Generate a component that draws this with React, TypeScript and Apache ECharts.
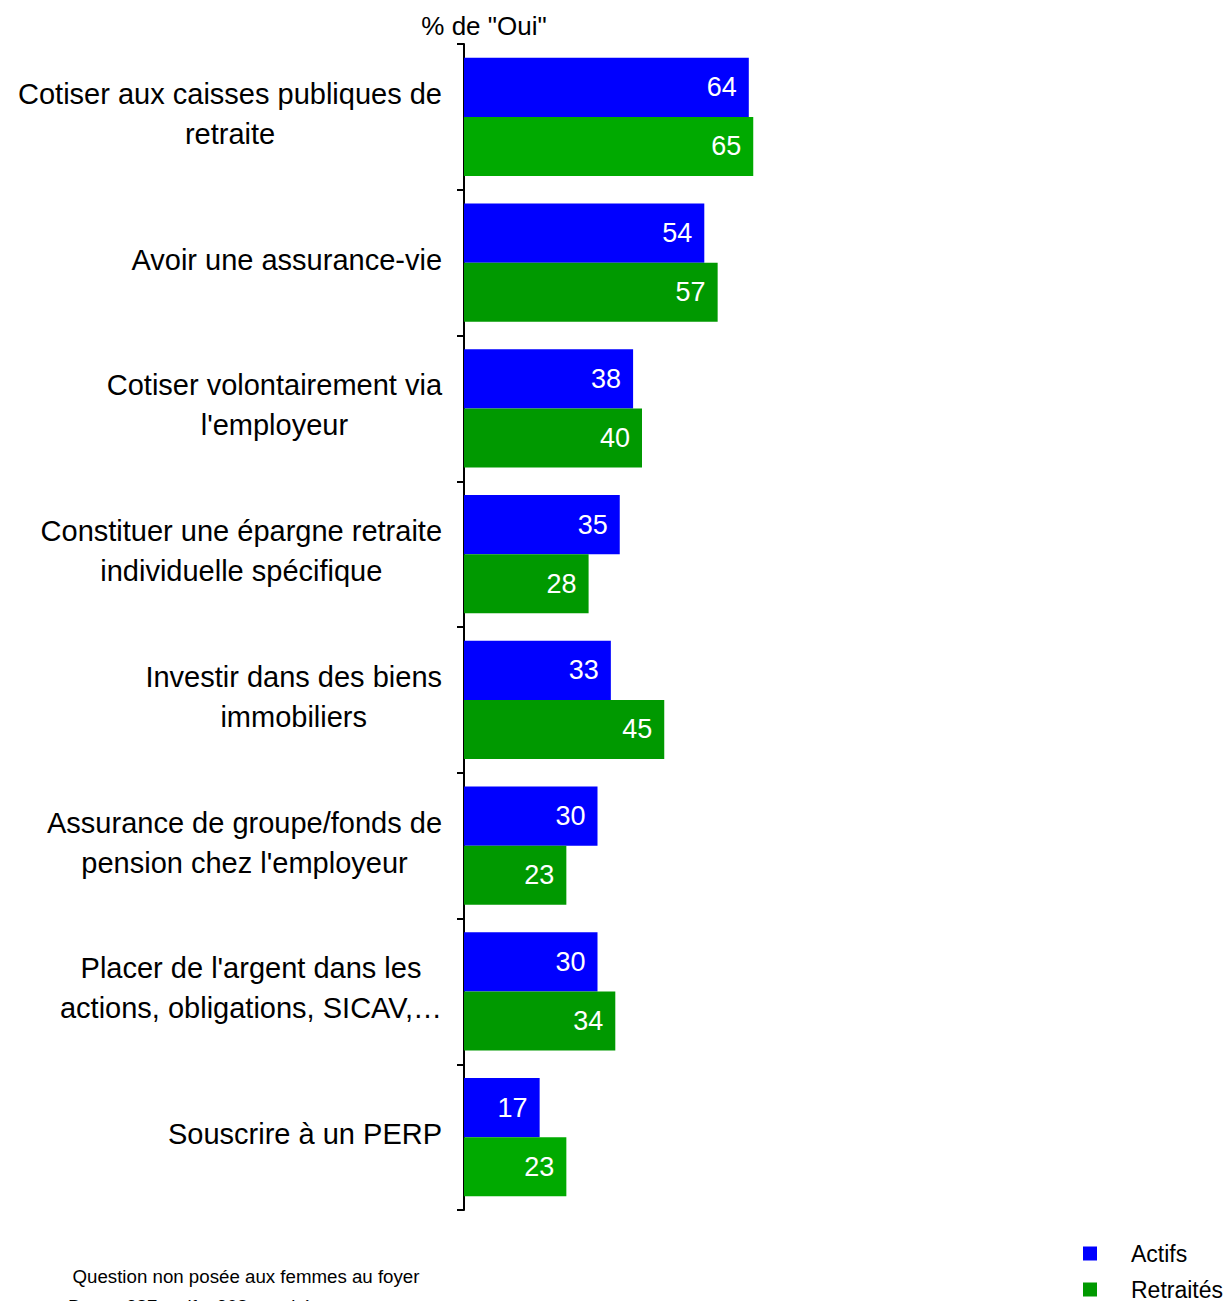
import React, { useEffect, useRef } from "react";
import * as echarts from "echarts";

const categories = [
  "Cotiser aux caisses publiques de\nretraite",
  "Avoir une assurance-vie",
  "Cotiser volontairement via\nl'employeur",
  "Constituer une épargne retraite\nindividuelle spécifique",
  "Investir dans des biens\nimmobiliers",
  "Assurance de groupe/fonds de\npension chez l'employeur",
  "Placer de l'argent dans les\nactions, obligations, SICAV,…",
  "Souscrire à un PERP",
];
const actifs = [64, 54, 38, 35, 33, 30, 30, 17];
const retraites = [65, 57, 40, 28, 45, 23, 34, 23];
const seriesNames = ["Actifs", "Retraités"];
const axisTitle = '% de "Oui"';
const footnotes = [
  "Question non posée aux femmes au foyer",
  "Base : 387 actifs, 208 retraités",
];
const highlightedGreen = [0, 7];

const FONT = "'Liberation Sans', Arial, sans-serif";
const BLUE = "#0000FF";
const GREEN = "#009900";
const GREEN_LIGHT = "#00AA00";

export default function App() {
  const ref = useRef<HTMLDivElement>(null);
  useEffect(() => {
    if (!ref.current) return;
    const chart = echarts.init(ref.current, undefined, { renderer: "svg" });
    const valueLabel = {
      show: true,
      position: "insideRight",
      distance: 12,
      color: "#fff",
      fontSize: 27,
      fontFamily: FONT,
    };
    chart.setOption({
      animation: false,
      backgroundColor: "#fff",
      textStyle: { fontFamily: FONT },
      grid: { left: 464, top: 44, width: 445, bottom: 91, containLabel: false },
      xAxis: {
        type: "value",
        min: 0,
        max: 100,
        show: false,
      },
      yAxis: {
        type: "category",
        inverse: true,
        data: categories,
        axisLine: { show: true, lineStyle: { color: "#000", width: 2 } },
        axisTick: { show: true, length: 7, lineStyle: { color: "#000", width: 2 } },
        splitLine: { show: false },
        axisLabel: {
          margin: 22,
          padding: [0, 0, 6, 0],
          formatter: (v: string) =>
            v
              .split("\n")
              .map((l) => `{c|${l}}`)
              .join("\n"),
          rich: {
            c: {
              align: "center",
              fontSize: 29,
              lineHeight: 40,
              color: "#000",
              fontFamily: FONT,
            },
          },
        },
      },
      legend: {
        data: seriesNames,
        orient: "vertical",
        left: 1083,
        top: 1242,
        height: 120,
        padding: 0,
        icon: "rect",
        itemWidth: 14,
        itemHeight: 14,
        itemGap: 13,
        textStyle: {
          fontSize: 23,
          color: "#000",
          fontFamily: FONT,
          padding: [0, 0, 0, 29],
        },
      },
      series: [
        {
          name: seriesNames[0],
          type: "bar",
          data: actifs,
          barGap: "0%",
          barCategoryGap: "19%",
          itemStyle: { color: BLUE },
          label: valueLabel,
        },
        {
          name: seriesNames[1],
          type: "bar",
          data: retraites.map((v, i) => ({
            value: v,
            itemStyle: { color: highlightedGreen.includes(i) ? GREEN_LIGHT : GREEN },
          })),
          barGap: "0%",
          barCategoryGap: "19%",
          itemStyle: { color: GREEN },
          label: valueLabel,
        },
      ],
      graphic: [
        {
          type: "text",
          x: 484,
          y: 26,
          style: {
            text: axisTitle,
            align: "center",
            verticalAlign: "middle",
            fontSize: 26,
            fontFamily: FONT,
            fill: "#000",
          },
        },
        {
          type: "text",
          x: 246,
          y: 1276,
          style: {
            text: footnotes[0],
            align: "center",
            verticalAlign: "middle",
            fontSize: 18.7,
            fontFamily: FONT,
            fill: "#000",
          },
        },
        {
          type: "text",
          x: 68,
          y: 1297,
          style: {
            text: footnotes[1],
            align: "left",
            verticalAlign: "top",
            fontSize: 18.7,
            fontFamily: FONT,
            fill: "#000",
          },
        },
      ],
    });
    return () => chart.dispose();
  }, []);
  return (
    <div
      ref={ref}
      style={{ position: "absolute", left: 0, top: 0, width: 1228, height: 1301 }}
    />
  );
}
